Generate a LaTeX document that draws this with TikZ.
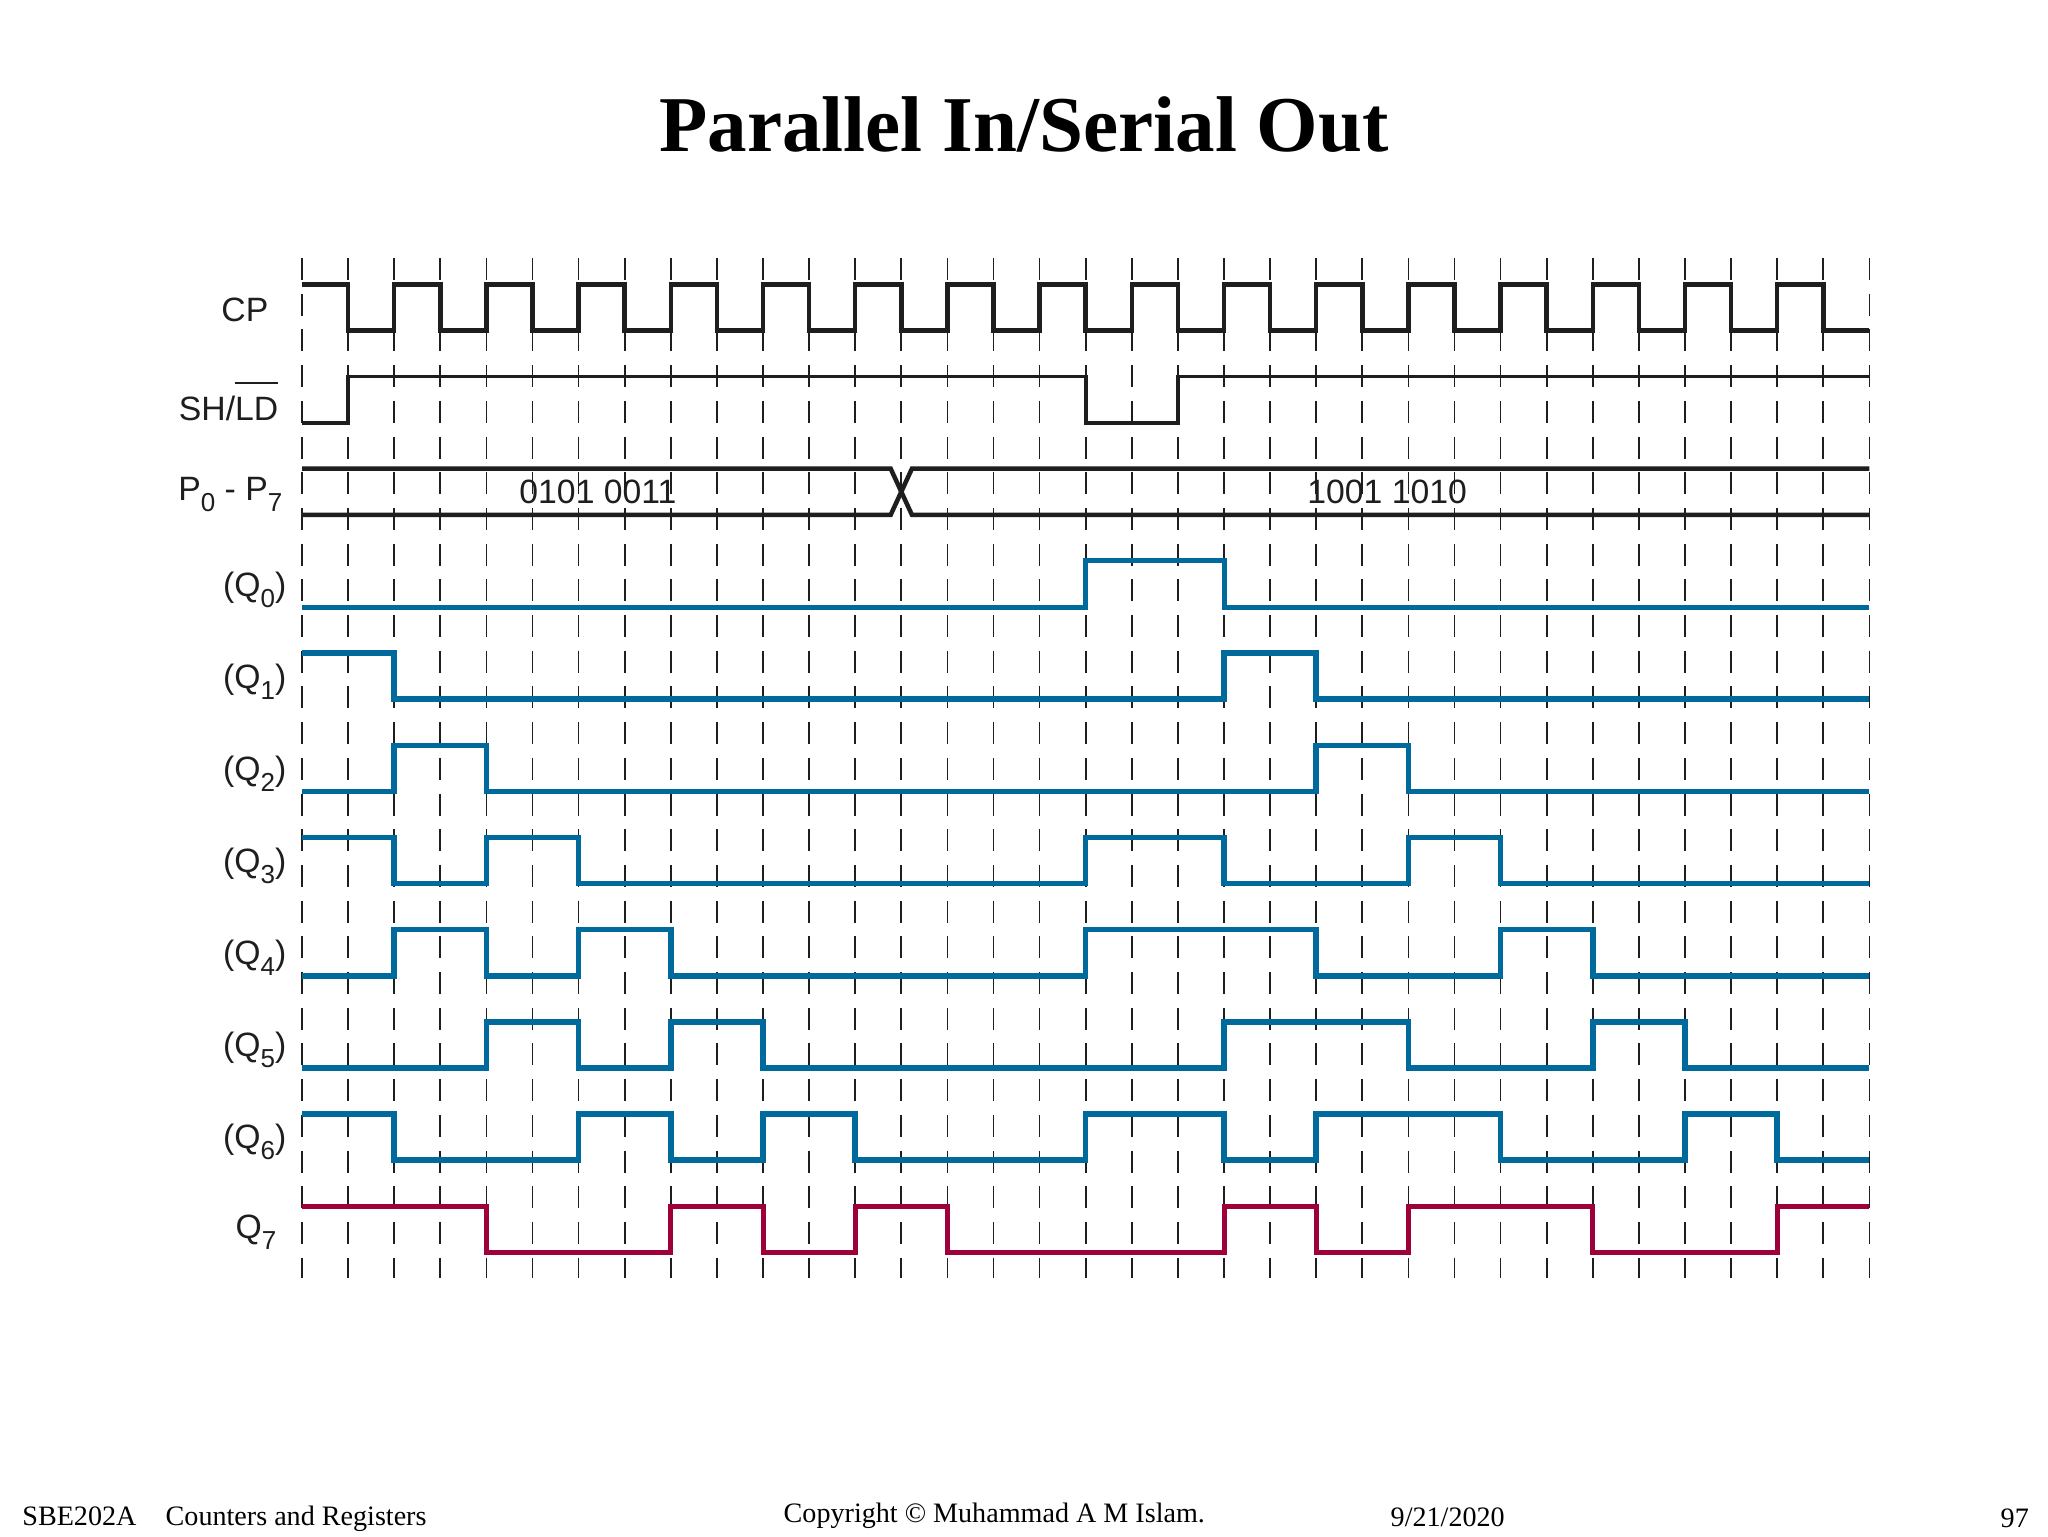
\documentclass[tikz,border=0pt]{standalone}
\usepackage{fontspec}
\setmainfont{Liberation Serif}
\newfontfamily\lab{Liberation Sans}
\definecolor{qblue}{RGB}{0,106,156}
\definecolor{qred}{RGB}{158,0,58}
\definecolor{ink}{RGB}{30,30,30}
\newcommand\sbs[1]{\raisebox{-3.3pt}{\fontsize{7.4}{8}\selectfont #1}}
\newcommand\ovl[1]{\vbox{\hrule height 0.5pt\kern 3.6pt\hbox{#1}}}
\begin{document}
\begin{tikzpicture}[x=0.1mm,y=-0.1mm,
  gridline/.style={line width=0.17mm, draw=ink, dash pattern=on 2.2mm off 1.37mm},
  blackwave/.style={line width=0.45mm, draw=ink},
  thinwave/.style={line width=0.38mm, draw=ink},
  bluewave/.style={line width=0.55mm, draw=qblue},
  redwave/.style={line width=0.5mm, draw=qred},
  siglabel/.style={font=\lab\fontsize{9.6}{11}\selectfont, inner sep=0pt, anchor=base east, text=ink},
  buslabel/.style={font=\lab\fontsize{9.6}{11}\selectfont, inner sep=0pt, anchor=center, text=ink},
  foot/.style={font=\fontsize{8}{10}\selectfont, inner sep=0pt, anchor=base west}]
\useasboundingbox[fill=white] (0,0) rectangle (2048,1536);

% title
\node[font=\fontsize{22.5}{27}\selectfont\bfseries, inner sep=0pt, anchor=base] (title) at (1024,151) {Parallel In/Serial Out};

% dashed time grid
\foreach \k in {0,...,34} \draw[gridline] ({302+46.1*\k},258) -- ({302+46.1*\k},1278);

% waveforms (grid units)
\begin{scope}[shift={(302,284.3)}, x=4.61mm, y=-4.61mm]
  % CP
  \draw[blackwave] (0,0) foreach \j in {0,...,15} { -- ({2*\j+1},0) -- ({2*\j+1},1) -- ({2*\j+2},1) -- ({2*\j+2},0) } -- (33,0) -- (33,1) -- (34,1);
  % SH/LD
  \draw[thinwave, shift={(0,2)}] (0,1) -- (1,1) -- (1,0) -- (17,0) -- (17,1) -- (19,1) -- (19,0) -- (34,0);
  % P0-P7 bus
  \draw[blackwave, shift={(0,4)}] (0,0) -- (12.77,0) -- (13.23,1) -- (34,1);
  \draw[blackwave, shift={(0,4)}] (0,1) -- (12.77,1) -- (13.23,0) -- (34,0);
  \node[buslabel] (b1) at (6.42,4.5) {0101 0011};
  \node[buslabel] (b2) at (23.54,4.5) {1001 1010};
  % Q0
  \draw[bluewave, line width=0.5mm, shift={(0,6)}] (0,1) -- (17,1) -- (17,0) -- (20,0) -- (20,1) -- (34,1);
  % Q1
  \draw[bluewave, shift={(0,8)}] (0,0) -- (2,0) -- (2,1) -- (20,1) -- (20,0) -- (22,0) -- (22,1) -- (34,1);
  % Q2
  \draw[bluewave, shift={(0,10)}] (0,1) -- (2,1) -- (2,0) -- (4,0) -- (4,1) -- (22,1) -- (22,0) -- (24,0) -- (24,1) -- (34,1);
  % Q3
  \draw[bluewave, shift={(0,12)}] (0,0) -- (2,0) -- (2,1) -- (4,1) -- (4,0) -- (6,0) -- (6,1) -- (17,1) -- (17,0) -- (20,0) -- (20,1) -- (24,1) -- (24,0) -- (26,0) -- (26,1) -- (34,1);
  % Q4
  \draw[bluewave, shift={(0,14)}] (0,1) -- (2,1) -- (2,0) -- (4,0) -- (4,1) -- (6,1) -- (6,0) -- (8,0) -- (8,1) -- (17,1) -- (17,0) -- (22,0) -- (22,1) -- (26,1) -- (26,0) -- (28,0) -- (28,1) -- (34,1);
  % Q5
  \draw[bluewave, shift={(0,16)}] (0,1) -- (4,1) -- (4,0) -- (6,0) -- (6,1) -- (8,1) -- (8,0) -- (10,0) -- (10,1) -- (20,1) -- (20,0) -- (24,0) -- (24,1) -- (28,1) -- (28,0) -- (30,0) -- (30,1) -- (34,1);
  % Q6
  \draw[bluewave, shift={(0,18)}] (0,0) -- (2,0) -- (2,1) -- (6,1) -- (6,0) -- (8,0) -- (8,1) -- (10,1) -- (10,0) -- (12,0) -- (12,1) -- (17,1) -- (17,0) -- (20,0) -- (20,1) -- (22,1) -- (22,0) -- (26,0) -- (26,1) -- (30,1) -- (30,0) -- (32,0) -- (32,1) -- (34,1);
  % Q7
  \draw[redwave, shift={(0,20)}] (0,0) -- (4,0) -- (4,1) -- (8,1) -- (8,0) -- (10,0) -- (10,1) -- (12,1) -- (12,0) -- (14,0) -- (14,1) -- (20,1) -- (20,0) -- (22,0) -- (22,1) -- (24,1) -- (24,0) -- (28,0) -- (28,1) -- (32,1) -- (32,0) -- (34,0);
\end{scope}

% signal labels
\node[siglabel] (lcp) at (269,321) {CP};
\node[siglabel] (lsh) at (279,420) {SH/\ovl{LD}};
\node[siglabel] (lp) at (283,500) {P\sbs{0} - P\sbs{7}};
\node[siglabel] (lq0) at (287,596) {(Q\sbs{0})};
\node[siglabel] (lq1) at (287,688) {(Q\sbs{1})};
\node[siglabel] (lq2) at (287,780) {(Q\sbs{2})};
\node[siglabel] (lq3) at (287,872) {(Q\sbs{3})};
\node[siglabel] (lq4) at (287,964) {(Q\sbs{4})};
\node[siglabel] (lq5) at (287,1056) {(Q\sbs{5})};
\node[siglabel] (lq6) at (287,1148) {(Q\sbs{6})};
\node[siglabel] (lq7) at (277,1238) {Q\sbs{7}};

% footer
\node[foot] (f1) at (21.7,1525.7) {SBE202A};
\node[foot] (f2) at (165,1525.7) {Counters and Registers};
\node[foot] (f3) at (783,1522) {Copyright © Muhammad A M Islam.};
\node[foot] (f4) at (1390,1526) {9/21/2020};
\node[foot] (f5) at (2000,1527) {97};
\end{tikzpicture}
\end{document}
